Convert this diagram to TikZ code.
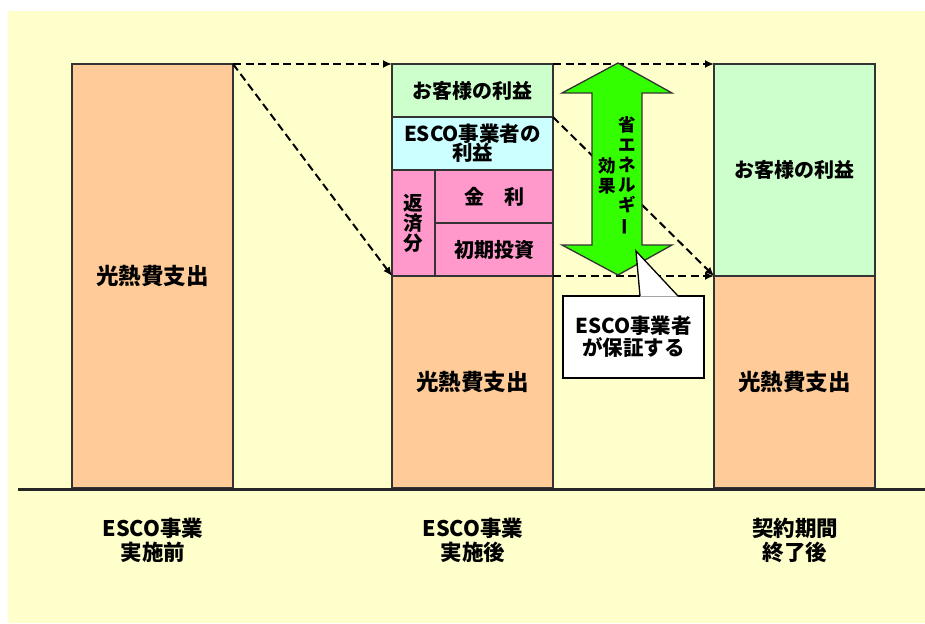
\documentclass[tikz,border=0pt]{standalone}
\usepackage{fontspec}
\setmainfont{Noto Sans CJK JP}
\usetikzlibrary{arrows.meta}
\definecolor{bgy}{HTML}{FFFFCC}
\definecolor{org}{HTML}{FFCC99}
\definecolor{lgr}{HTML}{CCFFCC}
\definecolor{lcy}{HTML}{CCFFFF}
\definecolor{pnk}{HTML}{FF99CC}
\definecolor{agr}{HTML}{33FF00}
\definecolor{edge}{HTML}{333333}
\begin{document}
\begin{tikzpicture}[x=1pt,y=-1pt,
  seg/.style={draw=edge, line width=1.8pt, anchor=north west, inner sep=0pt, outer sep=0pt,
    align=center, font=\fontsize{20}{22}\selectfont\bfseries},
  big/.style={font=\fontsize{22.5}{24}\selectfont\bfseries},
  flow/.style={draw=black, line width=2pt, dash pattern=on 8pt off 4.5pt,
    -{Latex[length=9pt,width=8pt]}},
  lbl/.style={align=center, font=\fontsize{21.5}{24}\selectfont\bfseries},
  vtxt/.style={align=center, inner sep=0pt, font=\fontsize{17.5}{20}\selectfont\bfseries}]
\useasboundingbox (0,0) rectangle (925,623);
\fill[white] (0,0) rectangle (925,623);
\fill[bgy] (8,11) rectangle (925,623);

% left bar
\node[seg, big, fill=org, minimum width=161pt, minimum height=424pt] (L) at (72,64) {光熱費支出};

% middle bar
\node[seg, fill=lgr, minimum width=161pt, minimum height=53pt] (m1) at (392,64) {お客様の利益};
\node[seg, fill=lcy, minimum width=161pt, minimum height=53pt, font=\fontsize{20.5}{22}\selectfont\bfseries] (m2) at (392,117) {ESCO事業者の\\[-3pt]利益};
\node[seg, fill=pnk, minimum width=43pt, minimum height=106pt, font=\fontsize{19.5}{20}\selectfont\bfseries] (pk) at (392,170) {返\\済\\分};
\node[seg, fill=pnk, minimum width=118pt, minimum height=53pt] (kin) at (435,170) {金　利};
\node[seg, fill=pnk, minimum width=118pt, minimum height=53pt] (sho) at (435,223) {初期投資};
\node[seg, big, fill=org, minimum width=161pt, minimum height=212pt] (mo) at (392,276) {光熱費支出};

% right bar
\node[seg, fill=lgr, minimum width=161pt, minimum height=212pt] (r1) at (714,64) {お客様の利益};
\node[seg, big, fill=org, minimum width=161pt, minimum height=212pt] (r2) at (714,276) {光熱費支出};

% dashed flows
\draw[flow] (L.north east) -- (m1.north west);
\draw[flow] (L.north east) -- (mo.north west);
\draw[flow] (m1.north east) -- (r1.north west);
\draw[flow] (m2.north east) -- (r2.north west);
\draw[flow] (mo.north east) -- (r2.north west);

% green double arrow
\draw[fill=agr, draw=edge, line width=1.3pt, line join=miter]
  (618,63) -- (672,93) -- (642,93) -- (642,245) -- (672,245) -- (618,275)
  -- (562,245) -- (592,245) -- (592,93) -- (562,93) -- cycle;
\node[vtxt] (v1) at (627,176) {省\\エ\\ネ\\ル\\ギ\\\rotatebox[origin=c]{90}{ー}};
\node[vtxt] (v2) at (607,176) {効\\果};

% callout
\coordinate (tip) at (636,251);
\node[seg, fill=white, draw=black, line width=1.3pt, minimum width=141pt, minimum height=82pt,
  font=\fontsize{20.5}{22}\selectfont\bfseries] (co) at (563,296) {ESCO事業者\\が保証する};
\fill[white] (640,296.6) -- (tip) -- (678,296.6) -- cycle;
\draw[black, line width=1.3pt, line join=miter] (640,296) -- (tip) -- (678,296);

% baseline
\draw[black!85, line width=3pt] (18,489) -- (925,489);

% bottom labels
\node[lbl] (b1) at (153,540) {ESCO事業\\実施前};
\node[lbl] (b2) at (473,540) {ESCO事業\\実施後};
\node[lbl] (b3) at (795,540) {契約期間\\終了後};
\end{tikzpicture}
\end{document}
